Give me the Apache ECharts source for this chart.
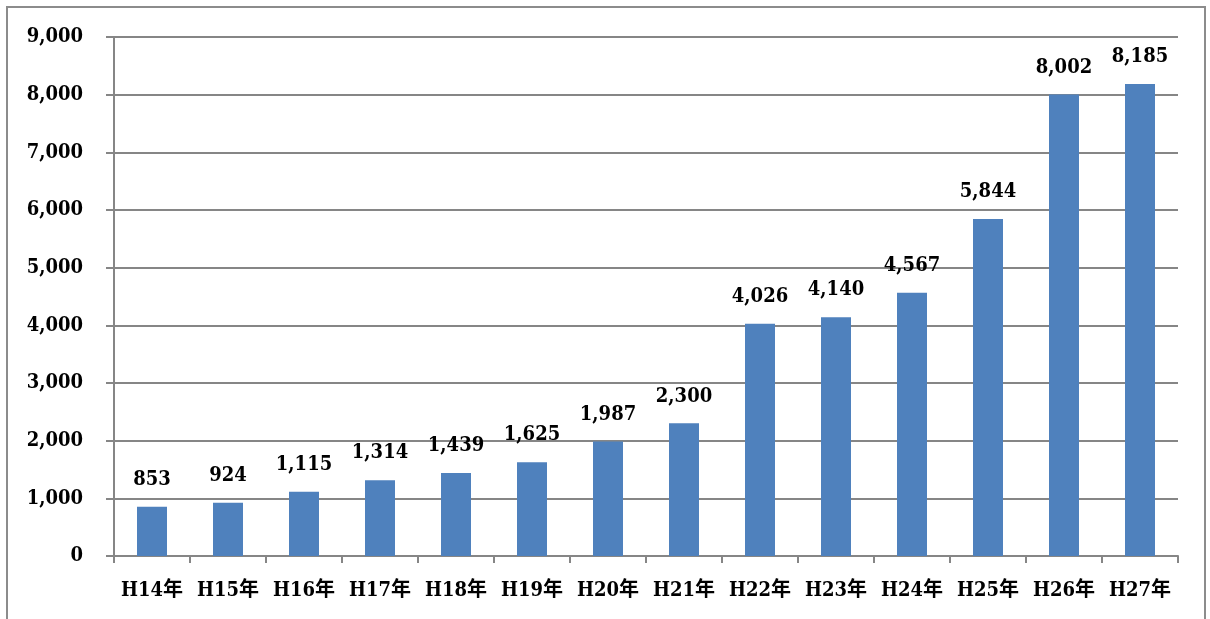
<!DOCTYPE html>
<html>
<head>
<meta charset="utf-8">
<script src="https://cdn.jsdelivr.net/npm/echarts@6/dist/echarts.min.js"></script>
<style>
html,body{margin:0;padding:0;background:#fff;}
#main{width:1210px;height:619px;}
</style>
</head>
<body>
<div id="main"></div>
<script>
const categories = ["H14年","H15年","H16年","H17年","H18年","H19年","H20年","H21年","H22年","H23年","H24年","H25年","H26年","H27年"];
const values = [853, 924, 1115, 1314, 1439, 1625, 1987, 2300, 4026, 4140, 4567, 5844, 8002, 8185];
const yTicks = {min: 0, max: 9000, interval: 1000};

const FONT = '"DejaVu Serif Condensed", "DejaVu Serif", "Noto Sans CJK JP", serif';
const chart = echarts.init(document.getElementById('main'), null, {renderer: 'canvas'});
const fmt = v => Number(v).toLocaleString('en-US');
chart.setOption({
  animation: false,
  backgroundColor: '#fff',
  graphic: [{
    type: 'rect',
    shape: {x: 7, y: 7, width: 1198, height: 700},
    style: {fill: 'none', stroke: '#8c8c8c', lineWidth: 2},
    z: -1
  }],
  grid: {left: 114, right: 32, top: 37, bottom: 63},
  xAxis: {
    type: 'category',
    data: categories,
    boundaryGap: true,
    axisLine: {lineStyle: {color: '#868686', width: 2}},
    axisTick: {show: true, length: 7, alignWithLabel: false, lineStyle: {color: '#868686', width: 2}},
    axisLabel: {color: '#000', fontFamily: FONT, fontWeight: 'bold', fontSize: 20, margin: 25, interval: 0}
  },
  yAxis: {
    type: 'value',
    min: yTicks.min, max: yTicks.max, interval: yTicks.interval,
    axisLine: {show: true, lineStyle: {color: '#868686', width: 2}},
    axisTick: {show: true, length: 8, lineStyle: {color: '#868686', width: 2}},
    splitLine: {show: true, lineStyle: {color: '#868686', width: 2}},
    axisLabel: {color: '#000', fontFamily: FONT, fontWeight: 'bold', fontSize: 20, margin: 31, formatter: fmt}
  },
  series: [{
    type: 'bar',
    data: values,
    barWidth: 30,
    itemStyle: {color: '#4F81BD'},
    label: {
      show: true, position: 'top', distance: 17,
      color: '#000', fontFamily: FONT, fontWeight: 'bold', fontSize: 20,
      formatter: p => fmt(p.value)
    }
  }]
});
</script>
</body>
</html>
